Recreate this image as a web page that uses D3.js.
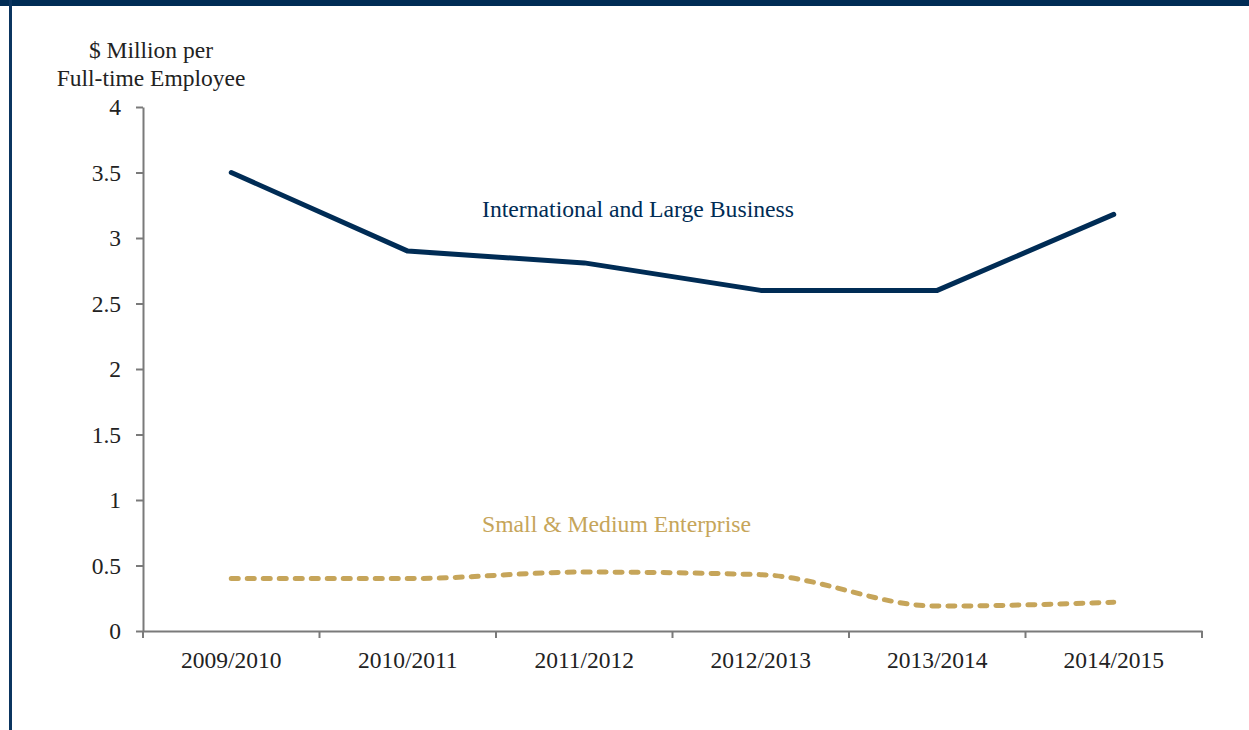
<!DOCTYPE html>
<html>
<head>
<meta charset="utf-8">
<script src="https://cdn.jsdelivr.net/npm/d3@7"></script>
<style>
  body { margin: 0; background: #fff; }
  svg text { font-family: "Liberation Serif", "DejaVu Serif", serif; }
</style>
</head>
<body>
<div id="chart"></div>
<script>
// data
const years = ["2009/2010", "2010/2011", "2011/2012", "2012/2013", "2013/2014", "2014/2015"];
const largeBusiness = [3.5, 2.9, 2.81, 2.6, 2.6, 3.18];
const smallEnterprise = [0.40, 0.40, 0.45, 0.43, 0.19, 0.22];
const yTicks = [0, 0.5, 1, 1.5, 2, 2.5, 3, 3.5, 4];

const W = 1249, H = 730;
const navy = "#002c55", gold = "#c6a55a", axisGrey = "#7a7a7a", textCol = "#222";

const svg = d3.select("#chart").append("svg")
    .attr("width", W)
    .attr("height", H);

// frame: thick bar on top, thin rule on the left
svg.append("rect").attr("x", 0).attr("y", 0).attr("width", W).attr("height", 6).attr("fill", navy);
svg.append("rect").attr("x", 9).attr("y", 0).attr("width", 3).attr("height", H).attr("fill", "#0b3560");

const x = d3.scaleBand().domain(years).range([143, 1202]).padding(0);
const y = d3.scaleLinear().domain([0, 4]).range([631, 107]);
const cx = d => x(d) + x.bandwidth() / 2;

// y axis
const yAxis = svg.append("g")
    .attr("transform", "translate(143,0)")
    .call(d3.axisLeft(y).tickValues(yTicks).tickFormat(d => d)
      .tickSize(7).tickSizeOuter(0).tickPadding(15));
yAxis.select(".domain").attr("stroke", axisGrey).attr("stroke-width", 2);
yAxis.selectAll(".tick line").attr("stroke", axisGrey).attr("stroke-width", 2);
yAxis.selectAll(".tick text").attr("fill", textCol).style("font-size", "23.5px");

// x axis: labels centred in bands, ticks on band edges
const xAxis = svg.append("g")
    .attr("transform", "translate(0,631)")
    .call(d3.axisBottom(x).tickSize(0).tickSizeOuter(0).tickPadding(20));
xAxis.select(".domain").attr("stroke", axisGrey).attr("stroke-width", 2);
xAxis.selectAll(".tick text").attr("fill", textCol).style("font-size", "23.5px");
xAxis.selectAll(".edge")
  .data(years.map(d => x(d)).concat([x.range()[1]]))
  .enter().append("line")
    .attr("class", "edge")
    .attr("x1", d => d).attr("x2", d => d)
    .attr("y1", 0).attr("y2", 7)
    .attr("stroke", axisGrey).attr("stroke-width", 2);

// y axis title
svg.append("text")
    .attr("x", 151).attr("y", 58)
    .attr("text-anchor", "middle")
    .attr("fill", textCol).style("font-size", "23.5px")
  .selectAll("tspan")
  .data(["$ Million per", "Full-time Employee"])
  .enter().append("tspan")
    .attr("x", 151)
    .attr("dy", (d, i) => i ? 28 : 0)
    .text(d => d);

// lines
const lineStraight = d3.line().x((d, i) => cx(years[i])).y(d => y(d));
const lineSmooth = d3.line().x((d, i) => cx(years[i])).y(d => y(d)).curve(d3.curveMonotoneX);

svg.append("path")
    .datum(largeBusiness)
    .attr("d", lineStraight)
    .attr("fill", "none")
    .attr("stroke", navy)
    .attr("stroke-width", 5)
    .attr("stroke-linecap", "round")
    .attr("stroke-linejoin", "round");

svg.append("path")
    .datum(smallEnterprise)
    .attr("d", lineSmooth)
    .attr("fill", "none")
    .attr("stroke", gold)
    .attr("stroke-width", 5)
    .attr("stroke-linecap", "round")
    .attr("stroke-dasharray", "7,9");

// series labels
svg.append("text")
    .attr("x", 482).attr("y", 217)
    .attr("fill", navy).style("font-size", "23.7px")
    .text("International and Large Business");
svg.append("text")
    .attr("x", 482).attr("y", 532)
    .attr("fill", gold).style("font-size", "23.7px")
    .text("Small & Medium Enterprise");
</script>
</body>
</html>
